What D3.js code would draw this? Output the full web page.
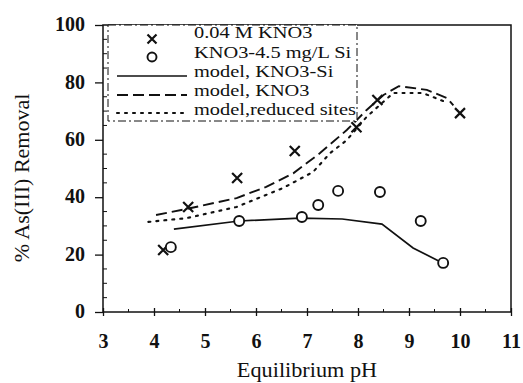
<!DOCTYPE html>
<html>
<head>
<meta charset="utf-8">
<script src="https://cdn.jsdelivr.net/npm/d3@7/dist/d3.min.js"></script>
<style>
  html, body { margin: 0; padding: 0; background: #fff; }
  svg { display: block; }
</style>
</head>
<body>
<svg id="chart" width="523" height="383"></svg>
<script>
// Measured removal, 0.04 M KNO3 background
const kno3PH      = [4.18, 4.67, 5.63, 6.76, 7.97, 8.38, 10.0];
const kno3Removal = [21.6, 36.6, 46.7, 56.1, 64.4, 73.9, 69.3];

// Measured removal, KNO3 with 4.5 mg/L Si
const siPH      = [4.33, 5.67, 6.90, 7.22, 7.61, 8.43, 9.23, 9.67];
const siRemoval = [22.6, 31.7, 33.1, 37.3, 42.2, 41.8, 31.7, 17.1];

// Model curves
const modelSiPH      = [4.39, 5.67, 6.86, 7.69, 8.47, 9.08, 9.67];
const modelSiRemoval = [28.9, 31.7, 32.7, 32.4, 30.6, 22.3, 17.0];

const modelKno3PH      = [4.04, 4.64, 5.62, 6.20, 6.73, 7.25, 7.78, 8.17, 8.50, 8.80, 9.35, 9.75, 9.87];
const modelKno3Removal = [33.8, 35.9, 39.7, 43.6, 48.3, 55.3, 63.4, 70.4, 75.6, 78.7, 77.4, 74.5, 72.0];

const modelRedPH      = [3.89, 4.64, 5.62, 6.53, 7.12, 7.45, 7.78, 8.17, 8.69, 9.27, 9.74];
const modelRedRemoval = [31.4, 32.7, 36.6, 43.2, 48.8, 55.3, 59.9, 68.0, 76.3, 76.3, 73.0];

const xTicks = [3, 4, 5, 6, 7, 8, 9, 10, 11];
const yTicks = [0, 20, 40, 60, 80, 100];

const legendLabels = ["0.04 M KNO3", "KNO3-4.5 mg/L Si", "model, KNO3-Si", "model, KNO3", "model,reduced sites"];

const FONT = "Liberation Serif";

const svg = d3.select("#chart");
const L = 103, R = 511, T = 25, B = 312;

const x = d3.scaleLinear().domain([3, 11]).range([L, R]);
const y = d3.scaleLinear().domain([0, 100]).range([B, T]);

const ink = "#111";

// Frame
svg.append("rect")
  .attr("x", L).attr("y", T).attr("width", R - L).attr("height", B - T)
  .attr("fill", "none").attr("stroke", ink).attr("stroke-width", 1.5);

// Y axis ticks: majors outward, minors inward
const yAxis = d3.axisLeft(y).tickValues(yTicks).tickSize(8).tickFormat(d3.format("d")).tickPadding(10);
const gy = svg.append("g").attr("transform", `translate(${L},0)`).call(yAxis)
  .attr("font-family", FONT);
gy.select(".domain").remove();
gy.selectAll(".tick line").attr("stroke", ink).attr("stroke-width", 1.3);
gy.selectAll(".tick text")
  .attr("font-family", FONT).attr("font-size", 20).attr("font-weight", "bold").attr("fill", ink)
  .attr("dy", "0.28em");

svg.append("g").selectAll("line")
  .data(d3.range(5, 100, 5).filter(v => v % 20 !== 0))
  .join("line")
  .attr("x1", L).attr("x2", L + 4)
  .attr("y1", d => y(d)).attr("y2", d => y(d))
  .attr("stroke", ink).attr("stroke-width", 1);

// X axis ticks: majors cross the axis, minors at half units
const xAxis = d3.axisBottom(x).tickValues(xTicks).tickSize(4).tickPadding(18).tickFormat(d3.format("d"));
const gx = svg.append("g").attr("transform", `translate(0,${B})`).call(xAxis)
  .attr("font-family", FONT);
gx.select(".domain").remove();
gx.selectAll(".tick line").attr("stroke", ink).attr("stroke-width", 1.3).attr("y1", -4);
gx.selectAll(".tick text")
  .attr("font-family", FONT).attr("font-size", 20).attr("font-weight", "bold").attr("fill", ink);

svg.append("g").selectAll("line")
  .data(d3.range(3.5, 11, 1))
  .join("line")
  .attr("x1", d => x(d)).attr("x2", d => x(d))
  .attr("y1", B - 3).attr("y2", B)
  .attr("stroke", ink).attr("stroke-width", 1);

// Axis titles
svg.append("text")
  .attr("transform", "translate(307,377) scale(1.06,1)")
  .attr("text-anchor", "middle")
  .attr("font-family", FONT).attr("font-size", 21).attr("fill", ink)
  .text("Equilibrium pH");

svg.append("text")
  .attr("transform", "translate(29,178) rotate(-90)")
  .attr("text-anchor", "middle")
  .attr("font-family", FONT).attr("font-size", 22).attr("fill", ink)
  .text("% As(III) Removal");

// Model curves
const line = d3.line().x(d => x(d[0])).y(d => y(d[1]));
const zip = (a, b) => a.map((v, i) => [v, b[i]]);

const styles = [
  { dash: null, width: 1.7 },
  { dash: "11,5", width: 1.9 },
  { dash: "2,6", width: 2.1 }
];

svg.append("path").datum(zip(modelSiPH, modelSiRemoval))
  .attr("d", line).attr("fill", "none").attr("stroke", ink)
  .attr("stroke-width", styles[0].width);
svg.append("path").datum(zip(modelKno3PH, modelKno3Removal))
  .attr("d", line).attr("fill", "none").attr("stroke", ink)
  .attr("stroke-width", styles[1].width).attr("stroke-dasharray", styles[1].dash);
svg.append("path").datum(zip(modelRedPH, modelRedRemoval))
  .attr("d", line).attr("fill", "none").attr("stroke", ink)
  .attr("stroke-width", styles[2].width).attr("stroke-dasharray", styles[2].dash)
  .attr("stroke-linecap", "round");

// Markers
const cross = (g, cx, cy, s) => {
  g.append("path")
    .attr("d", `M${cx - s},${cy - s}L${cx + s},${cy + s}M${cx - s},${cy + s}L${cx + s},${cy - s}`)
    .attr("stroke", ink).attr("stroke-width", 2.2).attr("fill", "none");
};
const gx3 = svg.append("g");
zip(kno3PH, kno3Removal).forEach(d => cross(gx3, x(d[0]), y(d[1]), 5));

svg.append("g").selectAll("circle")
  .data(zip(siPH, siRemoval))
  .join("circle")
  .attr("cx", d => x(d[0])).attr("cy", d => y(d[1])).attr("r", 5)
  .attr("fill", "#fff").attr("stroke", ink).attr("stroke-width", 1.9);

// Legend
const lg = svg.append("g");
lg.append("rect")
  .attr("x", 108).attr("y", T).attr("width", 249).attr("height", 96)
  .attr("fill", "#fff").attr("stroke", ink).attr("stroke-width", 1)
  .attr("stroke-dasharray", "8,3,2,3");

const symbolY = [39, 57, 76, 95, 113];
const textY = [38, 57.5, 77, 96, 115];
cross(lg, 152, symbolY[0], 4.5);
lg.append("circle").attr("cx", 152).attr("cy", symbolY[1]).attr("r", 4.5)
  .attr("fill", "#fff").attr("stroke", ink).attr("stroke-width", 1.9);
[0, 1, 2].forEach(i => {
  lg.append("line")
    .attr("x1", 117).attr("x2", 187)
    .attr("y1", symbolY[i + 2]).attr("y2", symbolY[i + 2])
    .attr("stroke", ink).attr("stroke-width", styles[i].width)
    .attr("stroke-dasharray", styles[i].dash)
    .attr("stroke-linecap", i === 2 ? "round" : "butt");
});
legendLabels.forEach((t, i) => {
  lg.append("text")
    .attr("transform", `translate(194,${textY[i]}) scale(1.2,1)`)
    .attr("font-family", FONT).attr("font-size", 17).attr("fill", ink)
    .text(t);
});
</script>
</body>
</html>
